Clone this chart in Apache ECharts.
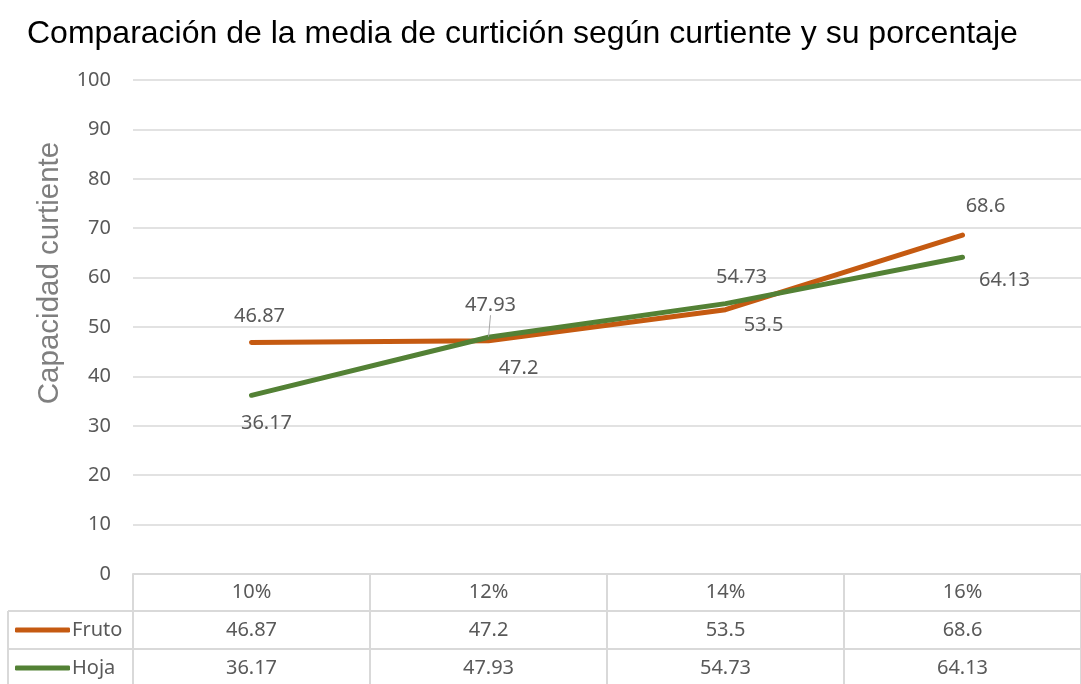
<!DOCTYPE html>
<html><head><meta charset="utf-8">
<script src="https://cdn.jsdelivr.net/npm/echarts@6/dist/echarts.min.js"></script>
<style>html,body{margin:0;padding:0;background:#fff}#c{width:1081px;height:684px}</style>
</head><body><div id="c"></div>
<script>
const categories = ['10%', '12%', '14%', '16%'];
const fruto = [46.87, 47.2, 53.5, 68.6];
const hoja = [36.17, 47.93, 54.73, 64.13];
const yTicks = [0, 10, 20, 30, 40, 50, 60, 70, 80, 90, 100];

const frutoOffsets = [[8, -26], [30, 27], [38, 16], [23, -29]];
const hojaOffsets = [[15, 28], [2, -32], [16, -26], [42, 23]];

const FONT = 'Noto Sans';
const TXT = '#595959';
const GRID = '#D9D9D9';

function mk(vals, offs, guideIdx) {
  return vals.map((v, i) => {
    const o = { value: v, label: { offset: offs[i] } };
    if (i === guideIdx) o.labelLine = { show: true, lineStyle: { color: '#A6A6A6', width: 1 } };
    return o;
  });
}

const chart = echarts.init(document.getElementById('c'), null, { renderer: 'canvas' });
chart.setOption({
  animation: false,
  title: {
    text: 'Comparación de la media de curtición según curtiente y su porcentaje',
    left: 22, top: 13,
    textStyle: { fontFamily: 'Liberation Sans', fontSize: 32, fontWeight: 'normal', color: '#000' }
  },
  grid: { left: 133, right: 0, top: 80, bottom: 110 },
  legend: {
    orient: 'vertical', left: 15, top: 620,
    itemWidth: 55, itemHeight: 5, itemGap: 18, icon: 'roundRect',
    padding: 0,
    textStyle: { fontFamily: FONT, fontSize: 20, color: TXT, lineHeight: 20, padding: [0, 0, 0, -3] },
    data: ['Fruto', 'Hoja']
  },
  xAxis: {
    type: 'category', data: categories, boundaryGap: true,
    axisLine: { show: true, lineStyle: { color: GRID, width: 2 } },
    axisTick: { show: true, length: 112, lineStyle: { color: GRID, width: 2 } },
    axisLabel: {
      margin: 0,
      formatter: (val, idx) => `{h|${val}}\n{v|${fruto[idx]}}\n{v|${hoja[idx]}}`,
      rich: {
        h: { fontFamily: FONT, fontSize: 20, color: TXT, lineHeight: 37 },
        v: { fontFamily: FONT, fontSize: 20, color: TXT, lineHeight: 38 }
      }
    },
    splitLine: { show: false }
  },
  yAxis: {
    type: 'value', min: yTicks[0], max: yTicks[yTicks.length - 1], interval: 10,
    axisLine: { show: false }, axisTick: { show: false },
    axisLabel: { margin: 22, fontFamily: FONT, fontSize: 20, color: TXT },
    splitLine: { lineStyle: { color: GRID, width: 1.5 } }
  },
  graphic: [
    { type: 'line', shape: { x1: 8, y1: 611, x2: 1081, y2: 611 }, style: { stroke: GRID, lineWidth: 2 } },
    { type: 'line', shape: { x1: 8, y1: 649, x2: 1081, y2: 649 }, style: { stroke: GRID, lineWidth: 2 } },
    { type: 'line', shape: { x1: 8, y1: 611, x2: 8, y2: 684 }, style: { stroke: GRID, lineWidth: 2 } },
    {
      type: 'text', x: 50, y: 273, rotation: Math.PI / 2,
      style: { text: 'Capacidad curtiente', fontFamily: 'Liberation Sans', fontSize: 29.5, fill: '#7F7F7F', align: 'center', verticalAlign: 'middle' }
    }
  ],
  series: [
    {
      name: 'Fruto', type: 'line', data: mk(fruto, frutoOffsets, -1),
      symbol: 'circle', symbolSize: 1, showSymbol: true,
      lineStyle: { color: '#C55A11', width: 5, cap: 'round', join: 'round' },
      itemStyle: { color: '#C55A11' },
      label: { show: true, position: 'inside', fontFamily: FONT, fontSize: 20, color: TXT },
      emphasis: { disabled: true }
    },
    {
      name: 'Hoja', type: 'line', data: mk(hoja, hojaOffsets, 1),
      symbol: 'circle', symbolSize: 1, showSymbol: true,
      lineStyle: { color: '#538135', width: 5, cap: 'round', join: 'round' },
      itemStyle: { color: '#538135' },
      label: { show: true, position: 'inside', fontFamily: FONT, fontSize: 20, color: TXT },
      emphasis: { disabled: true }
    }
  ]
});
</script></body></html>
